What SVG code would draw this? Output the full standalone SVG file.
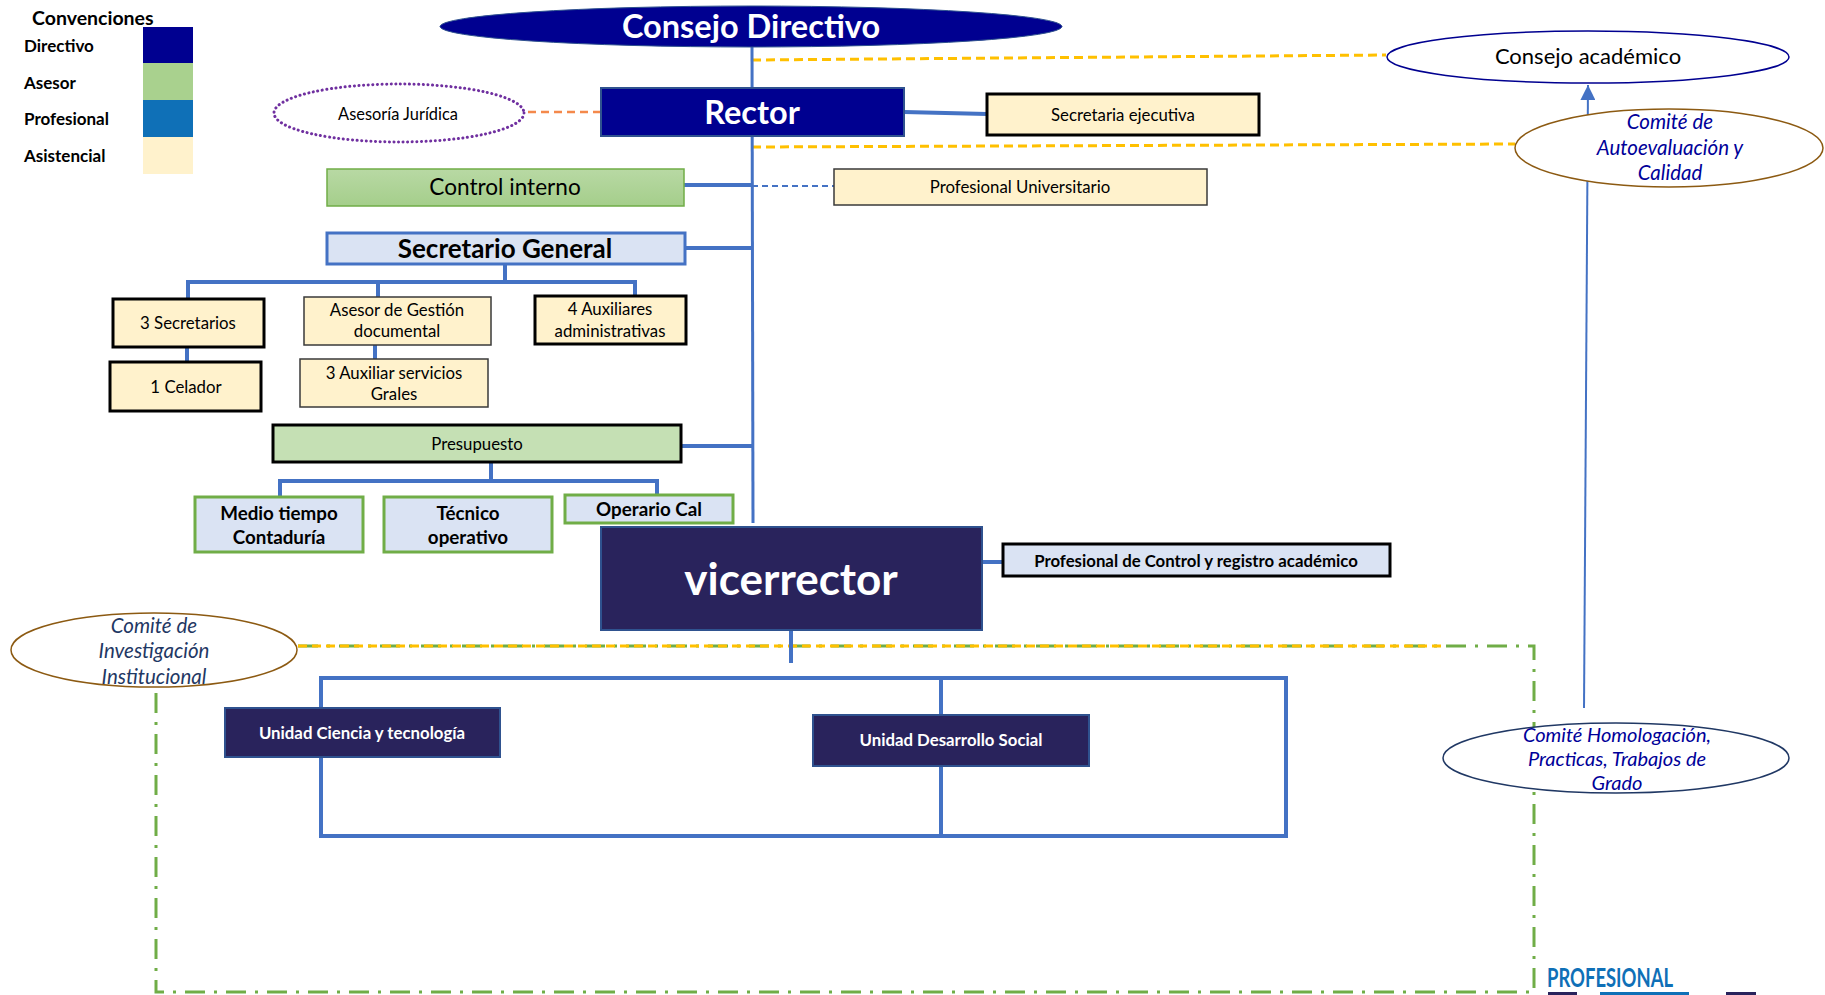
<svg xmlns="http://www.w3.org/2000/svg" width="1825" height="995" viewBox="0 0 1825 995">
<defs>
<style>
text{font-family:Lato,"Liberation Sans",sans-serif;text-anchor:middle;dominant-baseline:central;fill:#000}
.b{font-weight:bold}
.w{fill:#fff}
.f15{font-size:16.8px}
.asis{fill:#FFF2CC;stroke:#000;stroke-width:3}
.asis2{fill:#FFF2CC;stroke:#3a3a3a;stroke-width:1.5}
.profb{fill:#DAE3F3;stroke:#70AD47;stroke-width:3}
.dark{fill:#29235C;stroke:#2F528F;stroke-width:2}
.conn{stroke:#4472C4;stroke-width:4;fill:none}
.orange{stroke:#FFC000;stroke-width:3;stroke-dasharray:9 5;fill:none}
.green{stroke:#70AD47;stroke-width:3;stroke-dasharray:20 9 3 9;fill:none}
.com{fill:#fff;stroke:#8C5A12;stroke-width:1.5}
.ct{fill:#000099;font-style:italic;font-size:20.5px}
.lg{font-size:17px;font-weight:bold;text-anchor:start}
.bx{font-weight:bold;font-size:18.8px}
</style>
<linearGradient id="gci" x1="0" y1="0" x2="0" y2="1"><stop offset="0" stop-color="#B8D9A4"/><stop offset="1" stop-color="#A5CE8B"/></linearGradient>
<marker id="arr" viewBox="0 0 10 10" refX="10" refY="5" markerWidth="15" markerHeight="15" markerUnits="userSpaceOnUse" orient="auto"><path d="M0,0 L10,5 L0,10 z" fill="#4472C4"/></marker>
</defs>
<rect width="1825" height="995" fill="#fff"/>

<g id="connectors">
<path class="green" d="M298,646 H1534 V992 H156 V688"/>
<path class="orange" d="M298,646 H1443"/>
<path class="orange" d="M752,60 L1386,55"/>
<path class="orange" d="M752,147 L1515,144"/>
<path d="M601,112 H524" stroke="#F4894B" stroke-width="2.5" stroke-dasharray="8 5" fill="none"/>
<path d="M1584,708 L1588,85" stroke="#4472C4" stroke-width="2" fill="none" marker-end="url(#arr)"/>
<path d="M752,47 L753,523" stroke="#4472C4" stroke-width="3" fill="none"/>
<path class="conn" d="M904,112 L987,114"/>
<path class="conn" d="M684,185 H752"/>
<path d="M752,186 H834" stroke="#4472C4" stroke-width="2" stroke-dasharray="6 4" fill="none"/>
<path class="conn" d="M685,248 H752"/>
<path class="conn" d="M505,264 V282 M188,282 H635 M188,280 V299 M378,282 V297 M635,280 V296"/>
<path class="conn" d="M187,347 V362"/>
<path class="conn" d="M375,345 V359"/>
<path class="conn" d="M681,446 H752"/>
<path class="conn" d="M491,462 V481 M280,481 H657 M280,479 V497 M657,479 V495"/>
<path class="conn" d="M982,562 H1003"/>
<path class="conn" d="M791,630 V663"/>
<rect class="conn" x="321" y="678" width="965" height="158"/>
<path class="conn" d="M941,678 V836"/>
</g>

<g id="legend">
<text class="b" x="32" y="17" style="font-size:19.5px;text-anchor:start">Convenciones</text>
<text class="lg" x="24" y="45">Directivo</text>
<text class="lg" x="24" y="82">Asesor</text>
<text class="lg" x="24" y="118">Profesional</text>
<text class="lg" x="24" y="155">Asistencial</text>
<rect x="143" y="27" width="50" height="36" fill="#000090"/>
<rect x="143" y="63" width="50" height="37" fill="#A9D18E"/>
<rect x="143" y="100" width="50" height="37" fill="#0F70B7"/>
<rect x="143" y="137" width="50" height="37" fill="#FFF2CC"/>
</g>

<g id="consejo-directivo">
<ellipse cx="751" cy="26.5" rx="311" ry="20.5" fill="#000090" stroke="#2F528F" stroke-width="1"/>
<text class="b w" x="751" y="25.5" style="font-size:32.5px">Consejo Directivo</text>
</g>
<g id="rector">
<rect x="601" y="88" width="303" height="48" fill="#000090" stroke="#2F528F" stroke-width="2"/>
<text class="b w" x="752" y="111.5" style="font-size:32.5px">Rector</text>
</g>
<g id="secretaria-ejecutiva">
<rect class="asis" x="987" y="94" width="272" height="41"/>
<text class="f15" x="1123" y="114">Secretaria ejecutiva</text>
</g>
<g id="consejo-academico">
<ellipse cx="1588" cy="57" rx="201" ry="26" fill="#fff" stroke="#000090" stroke-width="1.5"/>
<text x="1588" y="55" style="font-size:22px">Consejo académico</text>
</g>
<g id="comite-autoevaluacion">
<ellipse class="com" cx="1669" cy="148" rx="154" ry="39"/>
<text class="ct" x="1670" y="121">Comité de</text>
<text class="ct" x="1670" y="147">Autoevaluación y</text>
<text class="ct" x="1670" y="172">Calidad</text>
</g>
<g id="asesoria-juridica">
<ellipse cx="399" cy="113" rx="125" ry="29" fill="#fff" stroke="#7030A0" stroke-width="3" stroke-dasharray="0.1 4.5" stroke-linecap="round"/>
<text x="398" y="113" style="font-size:16.4px">Asesoría Jurídica</text>
</g>
<g id="control-interno">
<rect x="327" y="169" width="357" height="37" fill="url(#gci)" stroke="#70AD47" stroke-width="1.5"/>
<text x="505" y="186.5" style="font-size:22.6px">Control interno</text>
</g>
<g id="profesional-universitario">
<rect class="asis2" x="834" y="169" width="373" height="36"/>
<text class="f15" x="1020" y="186">Profesional Universitario</text>
</g>
<g id="secretario-general">
<rect x="327" y="233" width="358" height="31" fill="#DAE3F3" stroke="#4472C4" stroke-width="3"/>
<text class="b" x="505" y="247.5" style="font-size:26px">Secretario General</text>
</g>
<g id="secretarios">
<rect class="asis" x="113" y="299" width="151" height="48"/>
<text class="f15" x="188" y="322">3 Secretarios</text>
</g>
<g id="celador">
<rect class="asis" x="110" y="362" width="151" height="49"/>
<text class="f15" x="186" y="386">1 Celador</text>
</g>
<g id="asesor-gestion">
<rect class="asis2" x="304" y="297" width="187" height="48"/>
<text class="f15" x="397" y="309.5">Asesor de Gestión</text>
<text class="f15" x="397" y="330">documental</text>
</g>
<g id="auxiliar-servicios">
<rect class="asis2" x="300" y="359" width="188" height="48"/>
<text class="f15" x="394" y="372">3 Auxiliar servicios</text>
<text class="f15" x="394" y="393">Grales</text>
</g>
<g id="auxiliares-administrativas">
<rect class="asis" x="535" y="296" width="151" height="48"/>
<text class="f15" x="610" y="308.5">4 Auxiliares</text>
<text class="f15" x="610" y="330">administrativas</text>
</g>
<g id="presupuesto">
<rect x="273" y="425" width="408" height="37" fill="#C5E0B4" stroke="#000" stroke-width="3"/>
<text class="f15" x="477" y="443.5">Presupuesto</text>
</g>
<g id="medio-tiempo">
<rect class="profb" x="195" y="497" width="168" height="55"/>
<text class="bx" x="279" y="512">Medio tiempo</text>
<text class="bx" x="279" y="536">Contaduría</text>
</g>
<g id="tecnico-operativo">
<rect class="profb" x="384" y="497" width="168" height="55"/>
<text class="bx" x="468" y="512">Técnico</text>
<text class="bx" x="468" y="536">operativo</text>
</g>
<g id="operario-cal">
<rect class="profb" x="565" y="495" width="168" height="28"/>
<text class="bx" x="649" y="508">Operario Cal</text>
</g>
<g id="vicerrector">
<rect class="dark" x="601" y="527" width="381" height="103"/>
<text class="b w" x="791" y="577.5" style="font-size:44px">vicerrector</text>
</g>
<g id="profesional-control">
<rect x="1003" y="544" width="387" height="32" fill="#DAE3F3" stroke="#000" stroke-width="3"/>
<text class="b f15" x="1196" y="560">Profesional de Control y registro académico</text>
</g>
<g id="unidad-ciencia">
<rect class="dark" x="225" y="708" width="275" height="49"/>
<text class="b w f15" x="362" y="732">Unidad Ciencia y tecnología</text>
</g>
<g id="unidad-desarrollo">
<rect class="dark" x="813" y="715" width="276" height="51"/>
<text class="b w f15" x="951" y="739">Unidad Desarrollo Social</text>
</g>
<g id="comite-investigacion">
<ellipse class="com" cx="154" cy="650" rx="143" ry="37"/>
<text class="ct" x="154" y="624.5" style="fill:#1F3864">Comité de</text>
<text class="ct" x="154" y="650" style="fill:#1F3864">Investigación</text>
<text class="ct" x="154" y="676" style="fill:#1F3864">Institucional</text>
</g>
<g id="comite-homologacion">
<ellipse cx="1616" cy="758" rx="173" ry="35" fill="#fff" stroke="#203864" stroke-width="1.5"/>
<text class="ct" x="1617" y="734" style="font-size:20px">Comité Homologación,</text>
<text class="ct" x="1617" y="758" style="font-size:20px">Practicas, Trabajos de</text>
<text class="ct" x="1617" y="782" style="font-size:20px">Grado</text>
</g>
<g id="logo">
<text class="b" x="1547" y="987" textLength="126" lengthAdjust="spacingAndGlyphs" style="font-size:27px;fill:#0F70B7;text-anchor:start;dominant-baseline:alphabetic">PROFESIONAL</text>
<rect x="1548" y="992" width="29" height="3" fill="#29235C"/>
<rect x="1600" y="992" width="89" height="3" fill="#0F70B7"/>
<rect x="1726" y="992" width="30" height="3" fill="#29235C"/>
</g>
</svg>
